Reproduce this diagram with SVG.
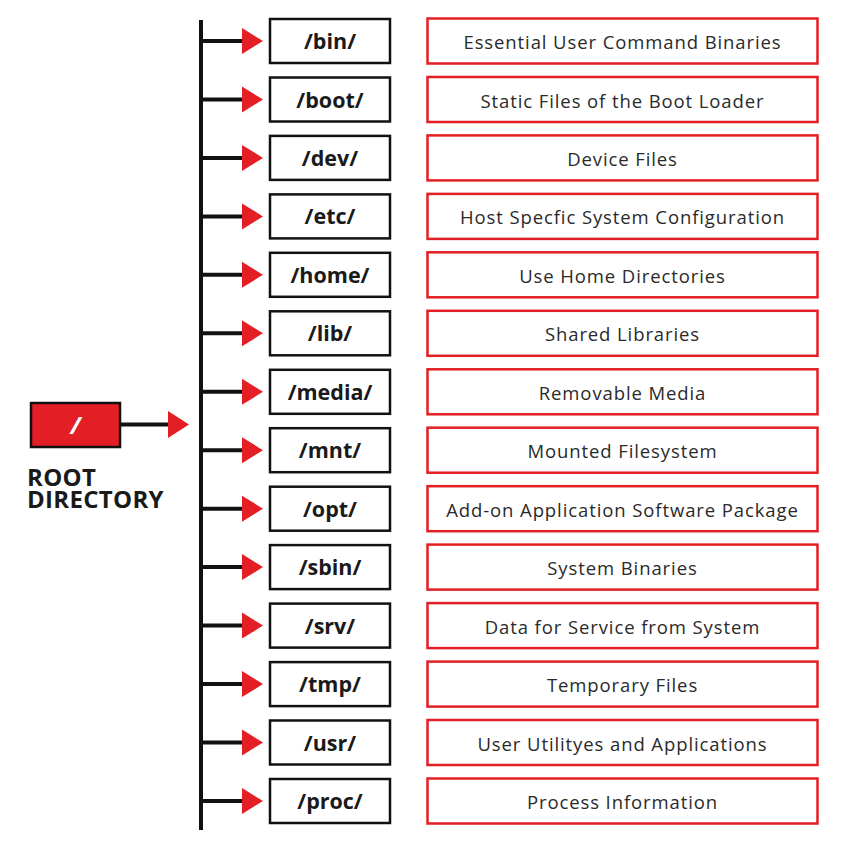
<svg xmlns="http://www.w3.org/2000/svg" width="841" height="841" viewBox="0 0 841 841">
<style>
.dir{fill:#fff;stroke:#111;stroke-width:2.5}
.desc{fill:#fff;stroke:#e31e24;stroke-width:2.5}
.dt{font-family:"Open Sans","Liberation Sans",sans-serif;font-weight:700;font-size:21.5px;fill:#1a1a1a;text-anchor:middle}
.ds{font-family:"Open Sans","Liberation Sans",sans-serif;font-weight:500;font-size:18.5px;letter-spacing:0.9px;fill:#2a2a2a;text-anchor:middle}
.ln{stroke:#111;stroke-width:4;fill:none}
.ah{fill:#e31e24}
</style>
<rect width="841" height="841" fill="#fff"/>
<g id="connectors">
<line class="ln" x1="201" y1="20" x2="201" y2="830"/>
<line class="ln" x1="120" y1="424.5" x2="170" y2="424.5"/>
<polygon class="ah" points="168,411 189,424.5 168,438"/>
<line class="ln" x1="201" y1="41" x2="244" y2="41"/><polygon class="ah" points="242,28 263,41 242,54"/>
<line class="ln" x1="201" y1="99.5" x2="244" y2="99.5"/><polygon class="ah" points="242,86.5 263,99.5 242,112.5"/>
<line class="ln" x1="201" y1="157.9" x2="244" y2="157.9"/><polygon class="ah" points="242,144.9 263,157.9 242,170.9"/>
<line class="ln" x1="201" y1="216.4" x2="244" y2="216.4"/><polygon class="ah" points="242,203.4 263,216.4 242,229.4"/>
<line class="ln" x1="201" y1="274.8" x2="244" y2="274.8"/><polygon class="ah" points="242,261.8 263,274.8 242,287.8"/>
<line class="ln" x1="201" y1="333.3" x2="244" y2="333.3"/><polygon class="ah" points="242,320.3 263,333.3 242,346.3"/>
<line class="ln" x1="201" y1="391.8" x2="244" y2="391.8"/><polygon class="ah" points="242,378.8 263,391.8 242,404.8"/>
<line class="ln" x1="201" y1="450.2" x2="244" y2="450.2"/><polygon class="ah" points="242,437.2 263,450.2 242,463.2"/>
<line class="ln" x1="201" y1="508.7" x2="244" y2="508.7"/><polygon class="ah" points="242,495.7 263,508.7 242,521.7"/>
<line class="ln" x1="201" y1="567.1" x2="244" y2="567.1"/><polygon class="ah" points="242,554.1 263,567.1 242,580.1"/>
<line class="ln" x1="201" y1="625.6" x2="244" y2="625.6"/><polygon class="ah" points="242,612.6 263,625.6 242,638.6"/>
<line class="ln" x1="201" y1="684.1" x2="244" y2="684.1"/><polygon class="ah" points="242,671.1 263,684.1 242,697.1"/>
<line class="ln" x1="201" y1="742.5" x2="244" y2="742.5"/><polygon class="ah" points="242,729.5 263,742.5 242,755.5"/>
<line class="ln" x1="201" y1="801" x2="244" y2="801"/><polygon class="ah" points="242,788 263,801 242,814"/>
</g>
<g id="root">
<rect x="31" y="403" width="89" height="44" fill="#e31e24" stroke="#111" stroke-width="2.5"/>
<text x="75.5" y="434" font-family="'Open Sans','Liberation Sans',sans-serif" font-weight="700" font-style="italic" font-size="24" fill="#fff" text-anchor="middle">/</text>
<text font-family="'Open Sans','Liberation Sans',sans-serif" font-weight="700" font-size="24" letter-spacing="0.3" fill="#1a1a1a"><tspan x="27" y="486">ROOT</tspan><tspan x="27" y="508">DIRECTORY</tspan></text>
</g>
<g id="n-bin" transform="translate(0,41)"><rect class="dir" x="270" y="-22" width="120" height="44"/><text class="dt" x="330" y="8">/bin/</text></g>
<g id="d-bin" transform="translate(0,41)"><rect class="desc" x="427.5" y="-22.5" width="390" height="45"/><text class="ds" x="622.5" y="8">Essential User Command Binaries</text></g>
<g id="n-boot" transform="translate(0,99.5)"><rect class="dir" x="270" y="-22" width="120" height="44"/><text class="dt" x="330" y="8">/boot/</text></g>
<g id="d-boot" transform="translate(0,99.5)"><rect class="desc" x="427.5" y="-22.5" width="390" height="45"/><text class="ds" x="622.5" y="8">Static Files of the Boot Loader</text></g>
<g id="n-dev" transform="translate(0,157.9)"><rect class="dir" x="270" y="-22" width="120" height="44"/><text class="dt" x="330" y="8">/dev/</text></g>
<g id="d-dev" transform="translate(0,157.9)"><rect class="desc" x="427.5" y="-22.5" width="390" height="45"/><text class="ds" x="622.5" y="8">Device Files</text></g>
<g id="n-etc" transform="translate(0,216.4)"><rect class="dir" x="270" y="-22" width="120" height="44"/><text class="dt" x="330" y="8">/etc/</text></g>
<g id="d-etc" transform="translate(0,216.4)"><rect class="desc" x="427.5" y="-22.5" width="390" height="45"/><text class="ds" x="622.5" y="8">Host Specfic System Configuration</text></g>
<g id="n-home" transform="translate(0,274.8)"><rect class="dir" x="270" y="-22" width="120" height="44"/><text class="dt" x="330" y="8">/home/</text></g>
<g id="d-home" transform="translate(0,274.8)"><rect class="desc" x="427.5" y="-22.5" width="390" height="45"/><text class="ds" x="622.5" y="8">Use Home Directories</text></g>
<g id="n-lib" transform="translate(0,333.3)"><rect class="dir" x="270" y="-22" width="120" height="44"/><text class="dt" x="330" y="8">/lib/</text></g>
<g id="d-lib" transform="translate(0,333.3)"><rect class="desc" x="427.5" y="-22.5" width="390" height="45"/><text class="ds" x="622.5" y="8">Shared Libraries</text></g>
<g id="n-media" transform="translate(0,391.8)"><rect class="dir" x="270" y="-22" width="120" height="44"/><text class="dt" x="330" y="8">/media/</text></g>
<g id="d-media" transform="translate(0,391.8)"><rect class="desc" x="427.5" y="-22.5" width="390" height="45"/><text class="ds" x="622.5" y="8">Removable Media</text></g>
<g id="n-mnt" transform="translate(0,450.2)"><rect class="dir" x="270" y="-22" width="120" height="44"/><text class="dt" x="330" y="8">/mnt/</text></g>
<g id="d-mnt" transform="translate(0,450.2)"><rect class="desc" x="427.5" y="-22.5" width="390" height="45"/><text class="ds" x="622.5" y="8">Mounted Filesystem</text></g>
<g id="n-opt" transform="translate(0,508.7)"><rect class="dir" x="270" y="-22" width="120" height="44"/><text class="dt" x="330" y="8">/opt/</text></g>
<g id="d-opt" transform="translate(0,508.7)"><rect class="desc" x="427.5" y="-22.5" width="390" height="45"/><text class="ds" x="622.5" y="8">Add-on Application Software Package</text></g>
<g id="n-sbin" transform="translate(0,567.1)"><rect class="dir" x="270" y="-22" width="120" height="44"/><text class="dt" x="330" y="8">/sbin/</text></g>
<g id="d-sbin" transform="translate(0,567.1)"><rect class="desc" x="427.5" y="-22.5" width="390" height="45"/><text class="ds" x="622.5" y="8">System Binaries</text></g>
<g id="n-srv" transform="translate(0,625.6)"><rect class="dir" x="270" y="-22" width="120" height="44"/><text class="dt" x="330" y="8">/srv/</text></g>
<g id="d-srv" transform="translate(0,625.6)"><rect class="desc" x="427.5" y="-22.5" width="390" height="45"/><text class="ds" x="622.5" y="8">Data for Service from System</text></g>
<g id="n-tmp" transform="translate(0,684.1)"><rect class="dir" x="270" y="-22" width="120" height="44"/><text class="dt" x="330" y="8">/tmp/</text></g>
<g id="d-tmp" transform="translate(0,684.1)"><rect class="desc" x="427.5" y="-22.5" width="390" height="45"/><text class="ds" x="622.5" y="8">Temporary Files</text></g>
<g id="n-usr" transform="translate(0,742.5)"><rect class="dir" x="270" y="-22" width="120" height="44"/><text class="dt" x="330" y="8">/usr/</text></g>
<g id="d-usr" transform="translate(0,742.5)"><rect class="desc" x="427.5" y="-22.5" width="390" height="45"/><text class="ds" x="622.5" y="8">User Utilityes and Applications</text></g>
<g id="n-proc" transform="translate(0,801)"><rect class="dir" x="270" y="-22" width="120" height="44"/><text class="dt" x="330" y="8">/proc/</text></g>
<g id="d-proc" transform="translate(0,801)"><rect class="desc" x="427.5" y="-22.5" width="390" height="45"/><text class="ds" x="622.5" y="8">Process Information</text></g>
</svg>
